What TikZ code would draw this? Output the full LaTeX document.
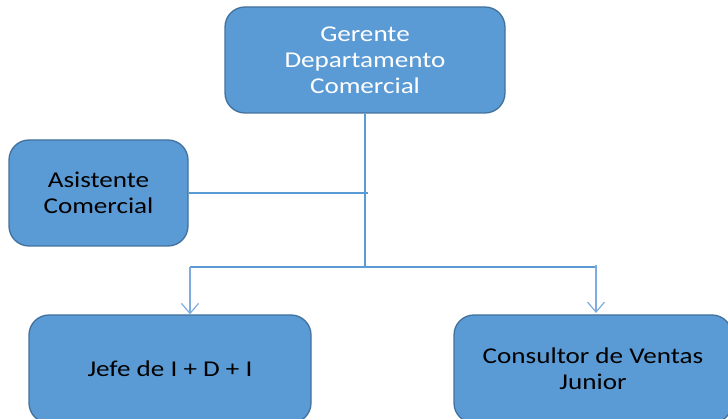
\documentclass[tikz,border=0pt]{standalone}
\usepackage{fontspec}
\setmainfont{Carlito}[FakeStretch=1.2]
\usetikzlibrary{arrows.meta}
\definecolor{boxfill}{HTML}{5B9BD5}
\definecolor{boxedge}{HTML}{41719C}
\definecolor{linkblue}{HTML}{5B9BD5}
\definecolor{arrowblue}{HTML}{7EACDF}
\begin{document}
\begin{tikzpicture}[x=1pt,y=-1pt,
  orgbox/.style={draw=boxedge, fill=boxfill, line width=1.3pt, rounded corners=20pt,
    align=center, font=\fontsize{22.6}{26}\selectfont, inner sep=0pt},
  link/.style={draw=linkblue, line width=2pt},
  feed/.style={draw=arrowblue, line width=1.2pt, -{Straight Barb[length=10pt,width=17pt]}}]
\useasboundingbox (0,0) rectangle (728,419);

% boxes of the chart
\node[orgbox, text=white, minimum width=280pt, minimum height=106pt] (gerente) at (365,60)
  {Gerente\\Departamento\\Comercial};
\node[orgbox, minimum width=179pt, minimum height=106pt] (asistente) at (98.5,193)
  {Asistente\\Comercial};
\node[orgbox, minimum width=282pt, minimum height=108pt] (jefe) at (170,369)
  {Jefe de I + D + I};
\node[orgbox, minimum width=278pt, minimum height=108pt] (consultor) at (593,369)
  {Consultor de Ventas\\Junior};

% junction points of the connectors
\coordinate (hub) at (365,267);
\coordinate (asisjoin) at (368,193);
\coordinate (leftdrop) at (190,267);
\coordinate (rightdrop) at (596,267);
\coordinate (righttop) at (596,265);
\coordinate (rightend) at (596,313);

% connectors
\draw[link] (gerente.south) -- (hub);
\draw[link] (asistente.east) -- (asisjoin);
\draw[link] (leftdrop) -- (rightdrop);
\draw[feed] (leftdrop) -- (jefe.north -| leftdrop);
\draw[feed] (righttop) -- (rightend);
\end{tikzpicture}
\end{document}
